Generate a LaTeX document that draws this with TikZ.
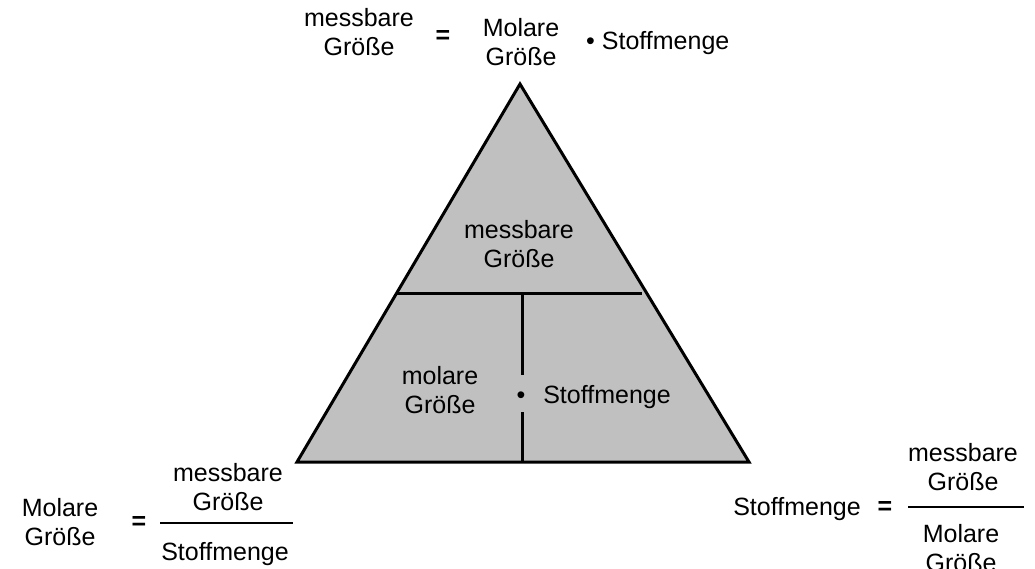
\documentclass[tikz,border=0pt]{standalone}
\usepackage{fontspec}
\setmainfont{Liberation Sans}
\usetikzlibrary{positioning}
\definecolor{grau}{HTML}{C0C0C0}
\begin{document}
\begin{tikzpicture}[x=1pt,y=-1pt,
      wort/.style={align=center,inner sep=0pt,anchor=base,
                   font=\fontsize{25}{29}\selectfont},
      zeichen/.style={inner sep=0pt,anchor=center,
                   font=\fontsize{25}{29}\selectfont},
      kante/.style={draw=black,line width=3pt,line join=miter},
      bruchstrich/.style={draw=black,line width=2pt}]
    \useasboundingbox (0,0) rectangle (1035,568);
    \coordinate (spitze) at (520,84);
    \coordinate (linksunten) at (297,462);
    \coordinate (rechtsunten) at (749,462);
    \coordinate (querl) at (397,293);
    \coordinate (querr) at (642,293);
    \coordinate (senko) at (522,293);
    \coordinate (senkm1) at (522,375);
    \coordinate (senkm2) at (522,412);
    \coordinate (senku) at (522,462);
    \filldraw[kante,fill=grau] (spitze) -- (linksunten) -- (rechtsunten) -- cycle;
    \draw[kante] (querl) -- (querr);
    \draw[kante] (senko) -- (senkm1);
    \draw[kante] (senkm2) -- (senku);
    \node[wort] (dmess) at (519,267) {messbare\\ Größe};
    \node[wort] (dmolar) at (440,413) {molare\\ Größe};
    \node[zeichen] (dpunkt) at (521,398) {•};
    \node[wort] (dstoff) at (607,403) {Stoffmenge};
    \node[wort] (omess) at (359,55) {messbare\\ Größe};
    \node[zeichen] (ogleich) at (443,37) {\bfseries =};
    \node[wort] (omolar) at (521,65) {Molare\\ Größe};
    \node[wort,anchor=base west] (ostoff) at (586,49) {• Stoffmenge};
    \node[wort] (lmolar) at (60,545) {Molare\\ Größe};
    \node[zeichen] (lgleich) at (139,523) {\bfseries =};
    \node[wort] (lzaehler) at (228,510) {messbare\\ Größe};
    \coordinate (lbruchl) at (160,523);
    \coordinate (lbruchr) at (293,523);
    \draw[bruchstrich] (lbruchl) -- (lbruchr);
    \node[wort] (lnenner) at (225,560) {Stoffmenge};
    \node[wort] (rstoff) at (797,515) {Stoffmenge};
    \node[zeichen] (rgleich) at (885,508) {\bfseries =};
    \node[wort] (rzaehler) at (963,490) {messbare\\ Größe};
    \coordinate (rbruchl) at (908,507);
    \coordinate (rbruchr) at (1024,507);
    \draw[bruchstrich] (rbruchl) -- (rbruchr);
    \node[wort] (rnenner) at (961,571) {Molare\\ Größe};
  \end{tikzpicture}
\end{document}
